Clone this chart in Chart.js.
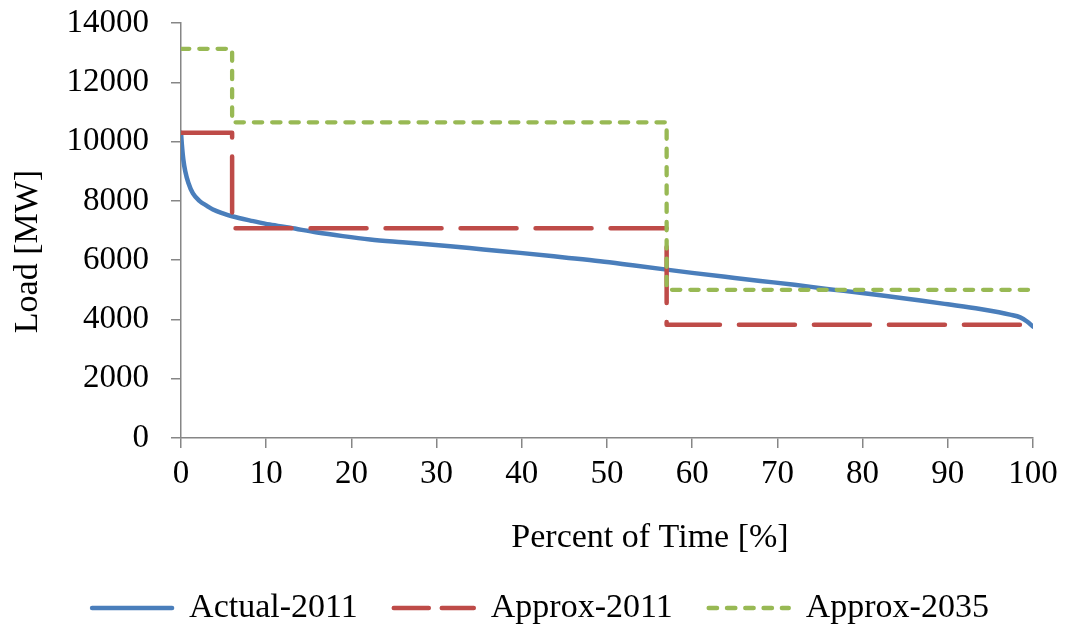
<!DOCTYPE html>
<html>
<head>
<meta charset="utf-8">
<title>Load Duration Curve</title>
<script src="https://cdn.jsdelivr.net/npm/chart.js@4/dist/chart.umd.min.js"></script>
<style>
  html, body { margin: 0; padding: 0; background: #fff; }
  #wrap { width: 1068px; height: 632px; }
</style>
</head>
<body>
<div id="wrap"><canvas id="chart" width="1068" height="632"></canvas></div>
<script>
// Load duration curve for 2011 and the stepped approximations
const actualPct  = [0, 0.1, 0.27, 0.5, 0.86, 1.4, 2.2, 3, 3.75, 5, 6, 8.5, 10.4, 12.8, 16, 19, 22.2, 26, 31.6, 35.5, 39.8, 45, 49.2, 53, 57, 60, 65, 68, 72, 75.8, 79.7, 83, 86.8, 90, 93.8, 96, 97.3, 98.5, 99.3, 100];
const actualLoad = [10300, 9900, 9400, 9000, 8610, 8250, 7990, 7840, 7710, 7570, 7480, 7315, 7200, 7090, 6930, 6810, 6700, 6605, 6470, 6360, 6245, 6090, 5962, 5825, 5680, 5570, 5400, 5300, 5170, 5030, 4900, 4780, 4640, 4510, 4350, 4240, 4160, 4070, 3930, 3760];

const approx2011Pct  = [0, 6, 6, 57, 57, 100];
const approx2011Load = [10300, 10300, 7080, 7080, 3820, 3820];

const approx2035Pct  = [0, 6, 6, 57, 57, 100];
const approx2035Load = [13130, 13130, 10650, 10650, 5000, 5000];

const seriesNames = ['Actual-2011', 'Approx-2011', 'Approx-2035'];
const xTicks = [0, 10, 20, 30, 40, 50, 60, 70, 80, 90, 100];
const yTicks = [0, 2000, 4000, 6000, 8000, 10000, 12000, 14000];
const xTitle = 'Percent of Time [%]';
const yTitle = 'Load [MW]';

const toPoints = (xs, ys) => xs.map((x, i) => ({ x: x, y: ys[i] }));

const BLUE = '#4A7EBB', RED = '#BE4B48', GREEN = '#98B954', AXIS = '#868686';
const FONT = "'Liberation Serif', 'Times New Roman', serif";

Chart.defaults.font.family = FONT;
Chart.defaults.font.size = 34;
Chart.defaults.color = '#000';

const legendStyles = [
  { color: BLUE,  dash: [] },
  { color: RED,   dash: [35, 13] },
  { color: GREEN, dash: [8.3, 10] }
];

// Axis titles, placed relative to the plot area
const axisTitles = {
  id: 'axisTitles',
  afterDraw(chart) {
    const { ctx, chartArea: a } = chart;
    ctx.save();
    ctx.font = '34px ' + FONT;
    ctx.fillStyle = '#000';
    ctx.textAlign = 'center';
    ctx.textBaseline = 'middle';
    ctx.fillText(xTitle, (a.left + a.right) / 2 + 43, a.bottom + 100);
    ctx.translate(28, (a.top + a.bottom) / 2 + 21);
    ctx.rotate(-Math.PI / 2);
    ctx.fillText(yTitle, 0, 0);
    ctx.restore();
  }
};

new Chart(document.getElementById('chart'), {
  type: 'line',
  data: {
    datasets: [
      {
        label: seriesNames[0],
        data: toPoints(actualPct, actualLoad),
        borderColor: BLUE,
        borderWidth: 4.5,
        cubicInterpolationMode: 'monotone',
        borderCapStyle: 'round',
        pointRadius: 0,
        order: 3
      },
      {
        label: seriesNames[1],
        data: toPoints(approx2011Pct, approx2011Load),
        borderColor: RED,
        borderWidth: 4.5,
        borderDash: [56, 19],
        borderCapStyle: 'round',
        borderJoinStyle: 'round',
        tension: 0,
        pointRadius: 0,
        order: 2
      },
      {
        label: seriesNames[2],
        data: toPoints(approx2035Pct, approx2035Load),
        borderColor: GREEN,
        borderWidth: 4.3,
        borderDash: [8.3, 10],
        borderCapStyle: 'round',
        borderJoinStyle: 'round',
        tension: 0,
        pointRadius: 0,
        order: 1
      }
    ]
  },
  options: {
    responsive: false,
    animation: false,
    devicePixelRatio: 1,
    layout: { padding: { top: 23, right: 35, bottom: -3, left: 48 } },
    plugins: {
      tooltip: { enabled: false },
      legend: {
        position: 'bottom',
        align: 'center',
        labels: {
          usePointStyle: true,
          pointStyleWidth: 80,
          boxHeight: 6,
          padding: 36,
          font: { size: 34, family: FONT },
          color: '#000',
          generateLabels: (chart) => chart.data.datasets.map((ds, i) => ({
            text: ds.label,
            fillStyle: legendStyles[i].color,
            strokeStyle: legendStyles[i].color,
            lineWidth: 4.5,
            lineDash: legendStyles[i].dash,
            lineCap: 'round',
            pointStyle: 'line',
            hidden: false,
            datasetIndex: i
          }))
        }
      }
    },
    scales: {
      x: {
        type: 'linear',
        min: 0,
        max: 100,
        afterBuildTicks: (scale) => { scale.ticks = xTicks.map(v => ({ value: v })); },
        afterFit: (scale) => { scale.height = 117; },
        grid: {
          display: true,
          drawOnChartArea: false,
          drawTicks: true,
          tickLength: 10,
          color: AXIS,
          lineWidth: 1.5
        },
        border: { display: true, color: AXIS, width: 1.5 },
        ticks: { padding: 7, font: { size: 33 }, color: '#000', maxRotation: 0 },
        title: { display: false }
      },
      y: {
        type: 'linear',
        min: 0,
        max: 14000,
        afterBuildTicks: (scale) => { scale.ticks = yTicks.map(v => ({ value: v })); },
        afterFit: (scale) => { scale.width = 133; scale.paddingTop = 0; scale.paddingBottom = 0; },
        grid: {
          display: true,
          drawOnChartArea: false,
          drawTicks: true,
          tickLength: 10,
          color: AXIS,
          lineWidth: 1.5
        },
        border: { display: true, color: AXIS, width: 1.5 },
        ticks: { padding: 22, font: { size: 33 }, color: '#000', callback: (v) => String(v) },
        title: { display: false }
      }
    }
  },
  plugins: [axisTitles]
});
</script>
</body>
</html>
